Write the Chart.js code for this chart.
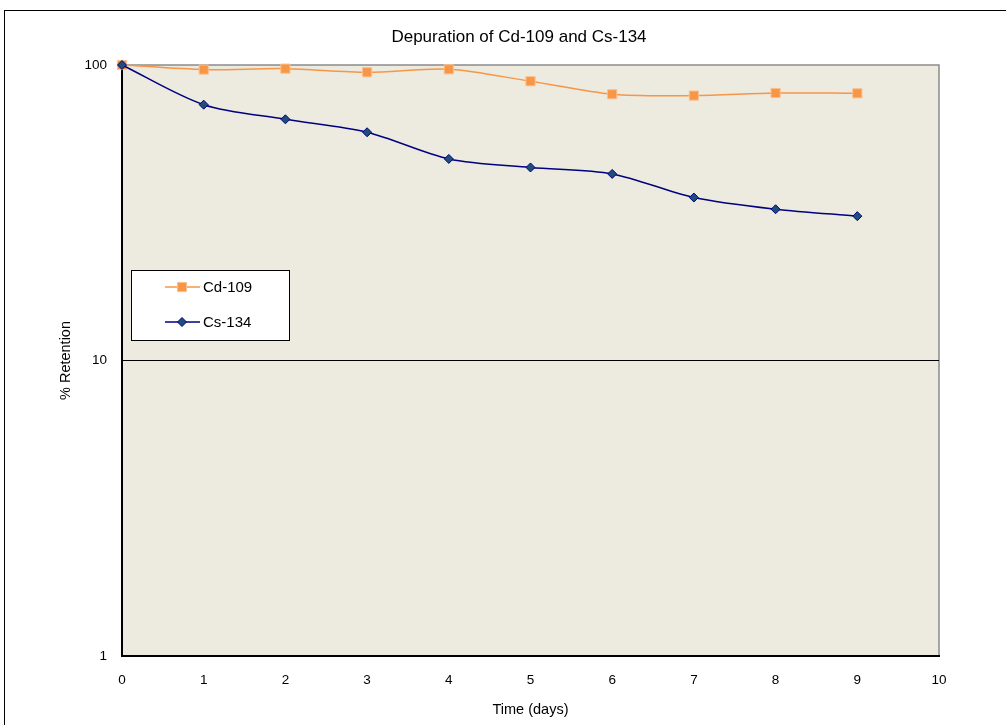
<!DOCTYPE html>
<html>
<head>
<meta charset="utf-8">
<script src="https://cdn.jsdelivr.net/npm/chart.js@4.4.1/dist/chart.umd.min.js"></script>
<style>
    html, body { margin: 0; padding: 0; background: #fff; overflow: hidden; }
    #wrap { width: 1006px; height: 725px; position: relative; }
</style>
</head>
<body>
<div id="wrap"><canvas id="chart"></canvas></div>

<script>
    const chartTitle = 'Depuration of Cd-109 and Cs-134';
    const days = [0, 1, 2, 3, 4, 5, 6, 7, 8, 9];
    const cd109 = [100, 96.5, 97.2, 94.5, 96.7, 88.1, 79.6, 78.8, 80.4, 80.2];
    const cs134 = [100, 73.4, 65.5, 59.2, 48.1, 45.0, 42.8, 35.6, 32.5, 30.8];
    const yTicks = [1, 10, 100];

    const font = 'Liberation Sans, Arial, sans-serif';

    // frame, plot background, grey top/right edges, title
    const decor = {
        id: 'decor',
        beforeDraw(chart) {
            const c = chart.ctx, a = chart.chartArea;
            c.save();
            c.fillStyle = '#fff';
            c.fillRect(0, 0, chart.width, chart.height);
            c.strokeStyle = '#000';
            c.lineWidth = 1;
            c.strokeRect(4.5, 10.5, chart.width + 10, chart.height + 10);
            c.fillStyle = '#edeae0';
            c.fillRect(a.left, a.top, a.right - a.left, a.bottom - a.top);
            c.strokeStyle = '#8c8c8c';
            c.lineWidth = 1.5;
            c.beginPath();
            c.moveTo(a.left, a.top);
            c.lineTo(a.right, a.top);
            c.lineTo(a.right, a.bottom);
            c.stroke();
            c.fillStyle = '#000';
            c.font = '17px ' + font;
            c.textAlign = 'center';
            c.textBaseline = 'middle';
            c.fillText(chartTitle, 519, 37);
            c.restore();
        }
    };

    // boxed legend inside the plot, like the original
    const boxLegend = {
        id: 'boxLegend',
        afterDraw(chart) {
            const c = chart.ctx;
            c.save();
            c.fillStyle = '#fff';
            c.fillRect(131, 270, 158, 70);
            c.strokeStyle = '#000';
            c.lineWidth = 1;
            c.strokeRect(131.5, 270.5, 158, 70);
            chart.data.datasets.forEach((ds, i) => {
                const y = 287 + i * 35;
                c.strokeStyle = ds.borderColor;
                c.lineWidth = ds.borderWidth;
                c.beginPath();
                c.moveTo(165, y);
                c.lineTo(200, y);
                c.stroke();
                c.fillStyle = ds.pointBackgroundColor;
                c.strokeStyle = ds.pointBorderColor;
                c.lineWidth = ds.pointBorderWidth;
                Chart.helpers.drawPoint(c, {
                    pointStyle: ds.pointStyle,
                    radius: ds.pointRadius,
                    borderWidth: ds.pointBorderWidth
                }, 182, y);
                c.fillStyle = '#000';
                c.font = '15px ' + font;
                c.textAlign = 'left';
                c.textBaseline = 'middle';
                c.fillText(ds.label, 203, y + 1);
            });
            c.restore();
        }
    };

    new Chart(document.getElementById('chart'), {
        type: 'line',
        data: {
            datasets: [{
                label: 'Cd-109',
                data: days.map((d, i) => ({ x: d, y: cd109[i] })),
                borderColor: '#f79646',
                borderWidth: 1.5,
                pointStyle: 'rect',
                pointRadius: 6.5,
                pointBorderWidth: 1,
                pointBackgroundColor: '#f79646',
                pointBorderColor: '#fbc08f',
                tension: 0.3,
                clip: false,
                order: 1
            }, {
                label: 'Cs-134',
                data: days.map((d, i) => ({ x: d, y: cs134[i] })),
                borderColor: '#000080',
                borderWidth: 1.5,
                pointStyle: 'rectRot',
                pointRadius: 4.5,
                pointBorderWidth: 1,
                pointBackgroundColor: '#1f4e79',
                pointBorderColor: '#000080',
                tension: 0.3,
                clip: false,
                order: 0
            }]
        },
        options: {
            responsive: true,
            maintainAspectRatio: false,
            animation: false,
            layout: { padding: { left: 57, top: 65, right: 67, bottom: 2 } },
            plugins: {
                legend: { display: false },
                title: { display: false },
                tooltip: { enabled: false }
            },
            scales: {
                x: {
                    type: 'linear',
                    min: 0,
                    max: 10,
                    ticks: { stepSize: 1, color: '#000', font: { family: font, size: 13.5 }, padding: 16 },
                    grid: { display: false, drawTicks: false },
                    border: { color: '#000', width: 2 },
                    title: { display: true, text: 'Time (days)', color: '#000', font: { family: font, size: 14.5 }, padding: { top: 12 } },
                    afterFit(scale) { scale.height = 67; }
                },
                y: {
                    type: 'logarithmic',
                    min: 1,
                    max: 100,
                    afterBuildTicks(scale) { scale.ticks = yTicks.map(v => ({ value: v })); },
                    ticks: {
                        color: '#000',
                        font: { family: font, size: 13.5 },
                        padding: 15,
                        callback: v => String(v)
                    },
                    grid: {
                        drawTicks: false,
                        color: ctx => ctx.tick && ctx.tick.value === 10 ? '#000' : 'rgba(0,0,0,0)',
                        lineWidth: 1
                    },
                    border: { color: '#000', width: 2 },
                    title: { display: true, text: '% Retention', color: '#000', font: { family: font, size: 14.5 }, padding: 0 },
                    afterFit(scale) { scale.width = 65; }
                }
            }
        },
        plugins: [decor, boxLegend]
    });
</script>
</body>
</html>
